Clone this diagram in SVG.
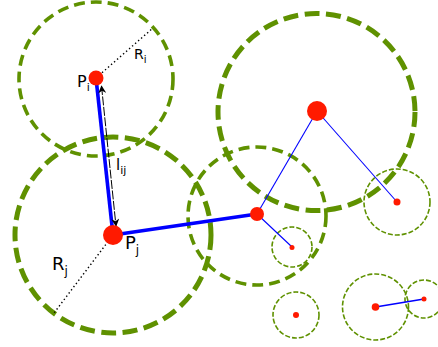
<svg xmlns="http://www.w3.org/2000/svg" width="438" height="347" viewBox="0 0 438 347">
<style>
.c{fill:none;stroke:#5f9100}
.big{stroke-width:5;stroke-dasharray:15,6.5}
.mid{stroke-width:3.6;stroke-dasharray:11,6}
.sm{stroke-width:1.6;stroke-dasharray:5,2}
.dot{fill:#ff1a00}
.thick{stroke:#0000ff;stroke-width:3.6;fill:none}
.thin{stroke:#0000ff;stroke-width:1.1;fill:none}
.lbl{font-family:"DejaVu Sans",sans-serif;fill:#000}
.dotted{stroke:#000;stroke-width:1.4;stroke-dasharray:1.4,2.6;fill:none}
</style>
<defs>
<marker id="ah" viewBox="0 0 10 10" refX="9" refY="5" markerWidth="11" markerHeight="8" orient="auto-start-reverse" markerUnits="userSpaceOnUse">
<path d="M0,0 L10,5 L0,10 L3,5 Z" fill="#000"/>
</marker>
</defs>
<g id="circles">
<circle class="c mid" cx="96" cy="79" r="77"/>
<circle class="c big" cx="113" cy="235" r="98"/>
<circle class="c big" cx="316.5" cy="112" r="98.5"/>
<circle class="c mid" cx="257" cy="216" r="69"/>
<circle class="c sm" cx="397" cy="202" r="33"/>
<circle class="c sm" cx="292" cy="247" r="20"/>
<circle class="c sm" cx="296" cy="315" r="23"/>
<circle class="c sm" cx="375.5" cy="307" r="33"/>
<circle class="c sm" cx="424" cy="299" r="19"/>
</g>
<g id="connectors">
<line class="thick" x1="96" y1="78" x2="113" y2="235"/>
<line class="thick" x1="113" y1="235" x2="257" y2="214"/>
<line class="thin" x1="257" y1="214" x2="317" y2="111"/>
<line class="thin" x1="317" y1="111" x2="397" y2="202"/>
<line class="thin" x1="257" y1="214" x2="292" y2="247"/>
<line class="thin" x1="375.5" y1="307" x2="424" y2="299" style="stroke-width:1.5"/>
<line class="dotted" x1="96" y1="78" x2="153" y2="28"/>
<line class="dotted" x1="113" y1="235" x2="54" y2="313"/>
<line x1="101.5" y1="86" x2="116" y2="226" stroke="#000" stroke-width="1" stroke-dasharray="9,1.5" marker-start="url(#ah)" marker-end="url(#ah)"/>
</g>
<g id="Pi"><circle class="dot" cx="96" cy="78" r="7.5"/></g>
<g id="Pj"><circle class="dot" cx="113" cy="235" r="10"/></g>
<g id="P3"><circle class="dot" cx="317" cy="111" r="10"/></g>
<g id="P4"><circle class="dot" cx="257" cy="214" r="7"/></g>
<g id="P5"><circle class="dot" cx="397" cy="202" r="3.5"/></g>
<g id="P6"><circle class="dot" cx="292" cy="247.5" r="2.5"/></g>
<g id="P7"><circle class="dot" cx="296" cy="315" r="3"/></g>
<g id="P8"><circle class="dot" cx="375.5" cy="307" r="3.8"/></g>
<g id="P9"><circle class="dot" cx="424" cy="299" r="2.5"/></g>
<g id="labels">
<text class="lbl" x="77" y="87" font-size="16">P<tspan font-size="11" dy="4">i</tspan></text>
<text class="lbl" x="134" y="59" font-size="14">R<tspan font-size="10" dy="4">i</tspan></text>
<text class="lbl" x="116" y="170" font-size="15">l<tspan font-size="11" dy="4">ij</tspan></text>
<text class="lbl" x="125" y="249" font-size="18">P<tspan font-size="12" dy="5">j</tspan></text>
<text class="lbl" x="52" y="270" font-size="18">R<tspan font-size="12" dy="5">j</tspan></text>
</g>
</svg>
